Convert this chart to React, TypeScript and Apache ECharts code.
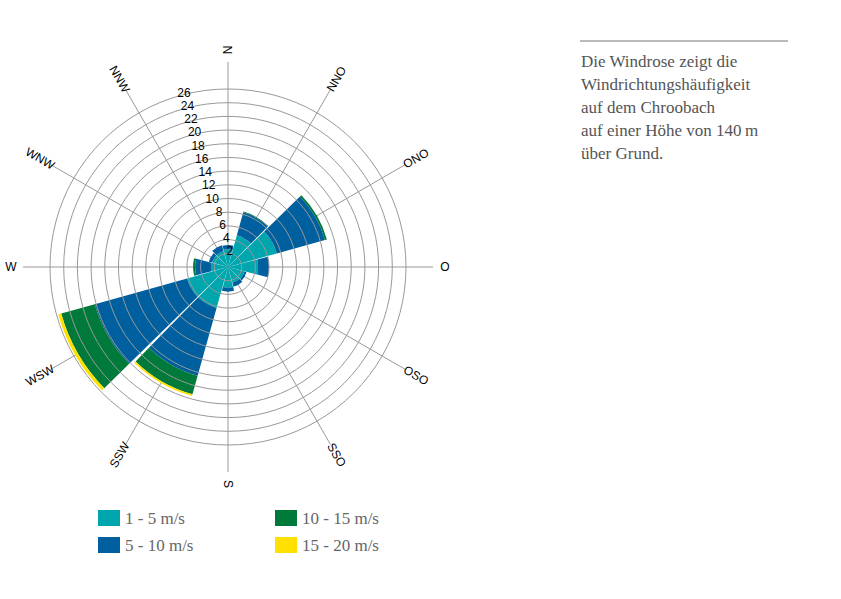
import { useEffect, useRef } from 'react';
import * as echarts from 'echarts';

const directions = ['N', 'NNO', 'ONO', 'O', 'OSO', 'SSO', 'S', 'SSW', 'WSW', 'W', 'WNW', 'NNW'];
const speed1to5 = [2.6, 4.8, 7.4, 4.4, 2.5, 2.4, 3.0, 6.2, 6.2, 2.5, 2.4, 2.4];
const speed5to10 = [0.6, 3.5, 7.3, 1.6, 0.3, 0.6, 0.6, 10.3, 14.0, 2.3, 0.5, 0.9];
const speed10to15 = [0, 0.1, 0.3, 0, 0, 0, 0, 2.8, 5.1, 0.3, 0, 0];
const speed15to20 = [0, 0, 0, 0, 0, 0, 0, 0.25, 0.45, 0, 0, 0];
const seriesNames = ['1 - 5 m/s', '5 - 10 m/s', '10 - 15 m/s', '15 - 20 m/s'];
const seriesColors = ['#00a6ad', '#005f9f', '#007a3a', '#ffe000'];
const textLines = [
  'Die Windrose zeigt die',
  'Windrichtungshäufigkeit',
  'auf dem Chroobach',
  'auf einer Höhe von 140\u2009m',
  'über Grund.',
];

const CX = 228;
const CY = 267;
const R = 178;

function App() {
  const chartRef = useRef<HTMLDivElement>(null);

  useEffect(() => {
    if (!chartRef.current) return;
    const chart = echarts.init(chartRef.current, null, { renderer: 'svg' });

    const allData = [speed1to5, speed5to10, speed10to15, speed15to20];

    // direction labels, rotated along the spoke
    const dirLabels = directions.map((d, i) => {
      const b = i * 30;
      const rad = (b * Math.PI) / 180;
      const lr = R + 39;
      const rot = b <= 180 ? 90 - b : 270 - b;
      return {
        type: 'text',
        x: CX + lr * Math.sin(rad),
        y: CY - lr * Math.cos(rad),
        rotation: (rot * Math.PI) / 180,
        style: {
          text: d,
          fill: '#000',
          font: '12px Arial, "Liberation Sans", sans-serif',
          align: 'center',
          verticalAlign: 'middle',
        },
      };
    });

    const legendPos = [
      [98, 510],
      [98, 537],
      [275, 510],
      [275, 537],
    ];
    const legendItems: any[] = [];
    seriesNames.forEach((n, i) => {
      const [x, y] = legendPos[i];
      legendItems.push({
        type: 'rect',
        shape: { x, y, width: 22, height: 16 },
        style: { fill: seriesColors[i] },
      });
      legendItems.push({
        type: 'text',
        x: x + 27,
        y: y + 8,
        style: {
          text: n,
          fill: '#666',
          font: '17px "Liberation Serif", "DejaVu Serif", serif',
          verticalAlign: 'middle',
        },
      });
    });

    const infoText = textLines.map((t, i) => ({
      type: 'text',
      x: 581,
      y: 61 + i * 23,
      style: {
        text: t,
        fill: '#555',
        font: '17px "Liberation Serif", "DejaVu Serif", serif',
        verticalAlign: 'middle',
      },
    }));

    chart.setOption({
      animation: false,
      polar: { center: [CX, CY], radius: R },
      angleAxis: {
        type: 'category',
        data: directions,
        startAngle: 90 + 15,
        clockwise: true,
        boundaryGap: true,
        axisLine: { show: false },
        axisLabel: { show: false },
        axisTick: { show: false },
        splitLine: { show: false },
        z: 1,
      },
      radiusAxis: {
        type: 'value',
        min: 0,
        max: 26,
        interval: 2,
        axisLine: { show: false },
        axisTick: { show: false },
        axisLabel: {
          color: '#000',
          fontSize: 12,
          fontFamily: 'Arial, "Liberation Sans", sans-serif',
          formatter: (v: number) => (v === 0 ? '' : String(v)),
          margin: -9,
          verticalAlign: 'middle',
        },
        splitLine: { show: true, lineStyle: { color: '#999', width: 1 } },
        z: 5,
      },
      series: allData.map((data, i) => ({
        type: 'bar',
        name: seriesNames[i],
        coordinateSystem: 'polar',
        stack: 'wind',
        data,
        barCategoryGap: '4%',
        itemStyle: { color: seriesColors[i] },
        z: 3,
      })),
      graphic: [
        ...directions.map((_, i) => {
          const rad = (i * 30 * Math.PI) / 180;
          return {
            type: 'line',
            z: -1,
            shape: {
              x1: CX,
              y1: CY,
              x2: CX + (R + 27) * Math.sin(rad),
              y2: CY - (R + 27) * Math.cos(rad),
            },
            style: { stroke: '#999', lineWidth: 1 },
          };
        }),
        ...dirLabels,
        ...legendItems,
        ...infoText,
        {
          type: 'line',
          shape: { x1: 580, y1: 41, x2: 788, y2: 41 },
          style: { stroke: '#777', lineWidth: 1 },
        },
      ],
    });

    return () => chart.dispose();
  }, []);

  return (
    <div
      ref={chartRef}
      style={{ position: 'absolute', left: 0, top: 0, width: 841, height: 599, background: '#fff' }}
    />
  );
}

export default App;
